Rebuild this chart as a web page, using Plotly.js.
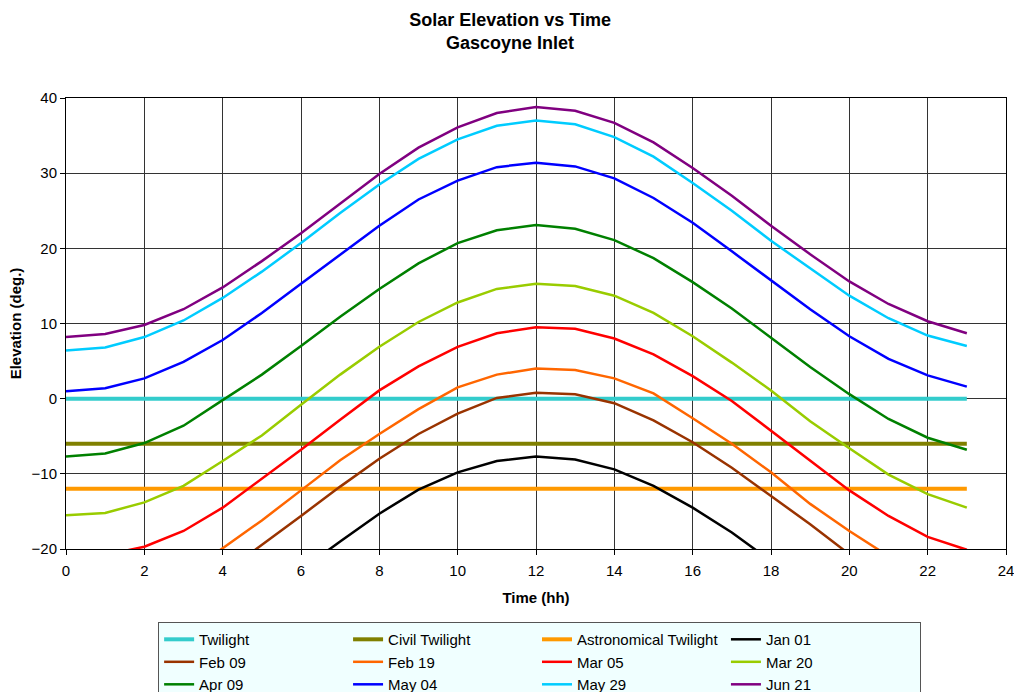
<!DOCTYPE html>
<html>
<head>
<meta charset="utf-8">
<script src="https://cdn.plot.ly/plotly-3.0.1.min.js"></script>
<style>
  html, body { margin: 0; padding: 0; background: #ffffff; }
  #chart { width: 1014px; height: 692px; }
</style>
</head>
<body>
<div id="chart"></div>
<script>
// Hour of day (0..23)
const hours = [0,1,2,3,4,5,6,7,8,9,10,11,12,13,14,15,16,17,18,19,20,21,22,23];

// Twilight reference levels (degrees)
const twilight = 0;
const civilTwilight = -6;
const astronomicalTwilight = -12;

// Solar elevation (degrees) per hour, by date
const jan01 = [-41.0,-40.5,-38.8,-35.8,-31.8,-27.3,-22.8,-19.0,-15.3,-12.1,-9.8,-8.3,-7.7,-8.1,-9.4,-11.6,-14.5,-17.8,-21.6,-25.7,-30.0,-34.0,-37.5,-40.0];
const feb09 = [-35.0,-34.3,-31.8,-27.8,-23.3,-19.5,-15.6,-11.7,-8.0,-4.7,-2.0,0.1,0.8,0.6,-0.6,-2.9,-5.8,-9.2,-12.9,-16.7,-20.7,-24.5,-28.3,-31.5];
const feb19 = [-30.0,-29.3,-27.0,-23.6,-19.9,-16.2,-12.2,-8.2,-4.7,-1.4,1.5,3.2,4.0,3.8,2.7,0.7,-2.6,-6.0,-9.8,-14.0,-17.6,-21.0,-24.3,-27.0];
const mar05 = [-21.2,-20.8,-19.7,-17.6,-14.5,-10.7,-6.8,-2.8,1.1,4.3,6.9,8.7,9.5,9.3,8.0,5.9,3.0,-0.3,-4.3,-8.2,-12.2,-15.6,-18.4,-20.1];
const mar20 = [-15.5,-15.2,-13.8,-11.6,-8.3,-4.9,-0.8,3.2,6.9,10.2,12.8,14.6,15.3,15.0,13.7,11.4,8.3,4.8,1.1,-3.0,-6.6,-10.1,-12.7,-14.5];
const apr09 = [-7.7,-7.3,-5.9,-3.6,-0.2,3.2,7.0,10.9,14.6,18.0,20.7,22.4,23.1,22.6,21.1,18.7,15.5,12.0,8.1,4.2,0.6,-2.7,-5.2,-6.8];
const may04 = [1.0,1.4,2.7,4.9,7.8,11.4,15.3,19.2,23.0,26.5,29.0,30.8,31.4,30.9,29.3,26.7,23.4,19.6,15.8,11.9,8.3,5.3,3.1,1.6];
const may29 = [6.4,6.8,8.2,10.4,13.4,16.9,20.7,24.7,28.5,31.9,34.5,36.3,37.0,36.5,34.8,32.2,28.7,25.0,21.0,17.3,13.7,10.7,8.4,7.0];
const jun21 = [8.2,8.6,9.8,11.9,14.8,18.3,22.0,26.0,29.9,33.4,36.1,38.0,38.8,38.3,36.7,34.1,30.7,27.0,23.0,19.2,15.6,12.6,10.3,8.7];

const FONT = "Arial, 'Liberation Sans', sans-serif";

function level(name, value, color) {
  return {
    x: hours, y: hours.map(() => value), name: name, type: 'scatter', mode: 'lines',
    line: { color: color, width: 4 }
  };
}
function day(name, values, color) {
  return {
    x: hours, y: values, name: name, type: 'scatter', mode: 'lines',
    line: { color: color, width: 2.5 }
  };
}

const traces = [
  level('Twilight', twilight, '#33CCCC'),
  level('Civil Twilight', civilTwilight, '#808000'),
  level('Astronomical Twilight', astronomicalTwilight, '#FF9900'),
  day('Jan 01', jan01, '#000000'),
  day('Feb 09', feb09, '#993300'),
  day('Feb 19', feb19, '#FF6600'),
  day('Mar 05', mar05, '#FF0000'),
  day('Mar 20', mar20, '#99CC00'),
  day('Apr 09', apr09, '#008000'),
  day('May 04', may04, '#0000FF'),
  day('May 29', may29, '#00CCFF'),
  day('Jun 21', jun21, '#800080')
];

const layout = {
  width: 1014, height: 692,
  margin: { l: 66, r: 8, t: 98, b: 143, autoexpand: false },
  paper_bgcolor: '#ffffff', plot_bgcolor: '#ffffff',
  font: { family: FONT, size: 15, color: '#000000' },
  title: {
    text: 'Solar Elevation vs Time<br>Gascoyne Inlet',
    font: { family: FONT, size: 18, weight: 'bold', color: '#000000' },
    x: 0.503, xref: 'container', xanchor: 'center',
    y: 1, yref: 'paper', yanchor: 'bottom',
    pad: { b: 72 }
  },
  xaxis: {
    range: [0, 24], dtick: 2, tick0: 0,
    showgrid: true, gridcolor: '#333333', gridwidth: 1,
    zeroline: false,
    showline: true, linecolor: '#000000', linewidth: 1, mirror: true,
    ticks: 'outside', ticklen: 5, tickcolor: '#000000',
    ticklabelstandoff: 3, ticklabeloverflow: 'allow',
    tickfont: { family: FONT, size: 15 },
    title: { text: 'Time (hh)', standoff: 14, font: { family: FONT, size: 15, weight: 'bold' } }
  },
  yaxis: {
    range: [-20, 40], dtick: 10, tick0: 0,
    showgrid: true, gridcolor: '#333333', gridwidth: 1,
    zeroline: false,
    showline: true, linecolor: '#000000', linewidth: 1, mirror: true,
    ticks: 'outside', ticklen: 5, tickcolor: '#000000',
    tickfont: { family: FONT, size: 15 },
    title: { text: 'Elevation (deg.)', standoff: 6, font: { family: FONT, size: 15, weight: 'bold' } }
  },
  showlegend: true,
  legend: {
    orientation: 'h',
    x: 0.098, xanchor: 'left',
    y: -0.162, yanchor: 'top',
    bgcolor: '#F0FFFF', bordercolor: '#555555', borderwidth: 1,
    entrywidth: 0.201, entrywidthmode: 'fraction',
    font: { family: FONT, size: 15, color: '#000000' },
    traceorder: 'normal'
  }
};

Plotly.newPlot('chart', traces, layout, { displayModeBar: false, staticPlot: true });
</script>
</body>
</html>
